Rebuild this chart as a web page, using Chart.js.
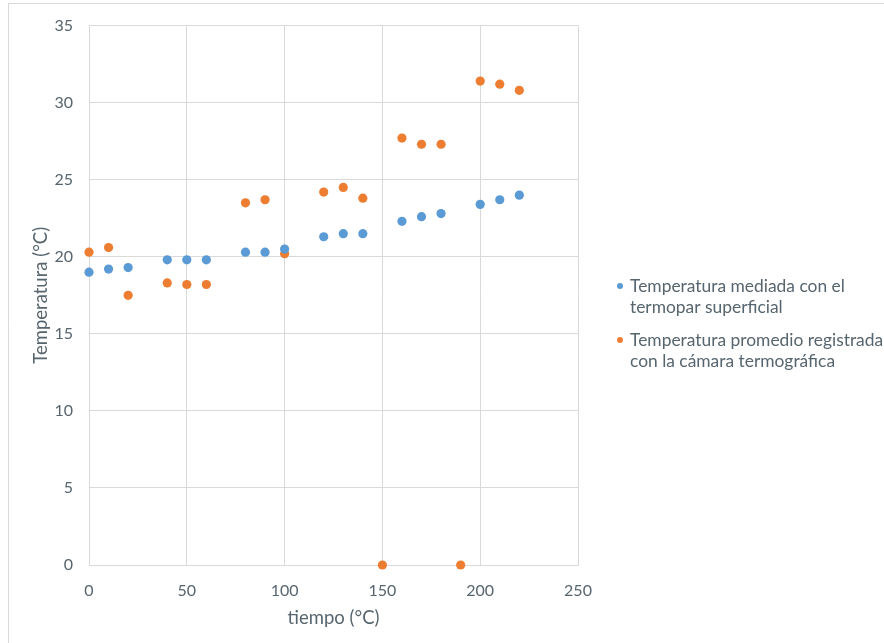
<!DOCTYPE html>
<html>
<head>
<meta charset="utf-8">
<script src="https://cdn.jsdelivr.net/npm/chart.js@4/dist/chart.umd.min.js"></script>
<style>
  html, body { margin: 0; padding: 0; background: #ffffff; }
  #wrap { position: relative; width: 884px; height: 643px; }
</style>
</head>
<body>
<div id="wrap"><canvas id="chart" width="884" height="643"></canvas></div>
<script>
// Surface thermocouple readings
const termoparTiempo = [0, 10, 20, 40, 50, 60, 80, 90, 100, 120, 130, 140, 160, 170, 180, 200, 210, 220];
const termoparTemp   = [19.0, 19.2, 19.3, 19.8, 19.8, 19.8, 20.3, 20.3, 20.5, 21.3, 21.5, 21.5, 22.3, 22.6, 22.8, 23.4, 23.7, 24.0];

// Average reading from the thermal camera
const camaraTiempo = [0, 10, 20, 40, 50, 60, 80, 90, 100, 120, 130, 140, 150, 160, 170, 180, 190, 200, 210, 220];
const camaraTemp   = [20.3, 20.6, 17.5, 18.3, 18.2, 18.2, 23.5, 23.7, 20.2, 24.2, 24.5, 23.8, 0, 27.7, 27.3, 27.3, 0, 31.4, 31.2, 30.8];

// Legend entries (wrapped onto two lines each)
const etiquetaTermopar = ['Temperatura mediada con el', 'termopar superficial'];
const etiquetaCamara   = ['Temperatura promedio registrada', 'con la cámara termográfica'];

// Axis settings
const ejeX = { min: 0, max: 250, paso: 50, titulo: 'tiempo (°C)' };
const ejeY = { min: 0, max: 35, paso: 5, titulo: 'Temperatura (°C)' };

const AZUL = '#5b9bd5';
const NARANJA = '#ed7d31';
const TEXTO = '#57656e';
const REJILLA = '#d9d9d9';
const FUENTE = 'Lato, "Open Sans", sans-serif';

const toPoints = (xs, ys) => xs.map((x, i) => ({ x: x, y: ys[i] }));

// Outer frame of the chart object
const marco = {
  id: 'marco',
  beforeDraw(chart) {
    const ctx = chart.ctx;
    ctx.save();
    ctx.fillStyle = '#ffffff';
    ctx.fillRect(0, 0, chart.width, chart.height);
    ctx.strokeStyle = REJILLA;
    ctx.lineWidth = 1;
    ctx.beginPath();
    ctx.moveTo(8.5, chart.height);
    ctx.lineTo(8.5, 3.5);
    ctx.lineTo(chart.width, 3.5);
    ctx.stroke();
    ctx.restore();
  }
};

// Legend drawn to the right of the plot, with wrapped labels
const leyenda = {
  id: 'leyenda',
  afterDraw(chart) {
    const ctx = chart.ctx;
    const x0 = chart.chartArea.right + 42;
    const lineH = 21;
    let y = 286;
    ctx.save();
    ctx.font = '17.4px ' + FUENTE;
    ctx.textBaseline = 'middle';
    ctx.textAlign = 'left';
    chart.data.datasets.forEach(ds => {
      ctx.fillStyle = ds.backgroundColor;
      ctx.beginPath();
      ctx.arc(x0, y, 3, 0, Math.PI * 2);
      ctx.fill();
      ctx.fillStyle = TEXTO;
      ds.label.forEach((line, i) => ctx.fillText(line, x0 + 10, y + i * lineH));
      y += ds.label.length * lineH + 12;
    });
    ctx.restore();
  }
};

new Chart(document.getElementById('chart'), {
  type: 'scatter',
  data: {
    datasets: [
      {
        label: etiquetaTermopar,
        data: toPoints(termoparTiempo, termoparTemp),
        backgroundColor: AZUL,
        borderColor: AZUL,
        pointRadius: 4.6,
        pointBorderWidth: 0,
        clip: false
      },
      {
        label: etiquetaCamara,
        data: toPoints(camaraTiempo, camaraTemp),
        backgroundColor: NARANJA,
        borderColor: NARANJA,
        pointRadius: 4.6,
        pointBorderWidth: 0,
        clip: false
      }
    ]
  },
  options: {
    responsive: false,
    animation: false,
    layout: { padding: { left: 9, top: 20, right: 306, bottom: 0 } },
    plugins: {
      legend: { display: false },
      tooltip: { enabled: false }
    },
    scales: {
      x: {
        type: 'linear',
        min: ejeX.min,
        max: ejeX.max,
        afterFit(scale) { scale.height = 78; },
        ticks: { stepSize: ejeX.paso, color: TEXTO, padding: 16, font: { family: FUENTE, size: 16 } },
        grid: { color: REJILLA, lineWidth: 1, drawTicks: false },
        border: { color: REJILLA },
        title: { display: true, text: ejeX.titulo, color: TEXTO, padding: { top: 0, bottom: 14 }, font: { family: FUENTE, size: 18.5 } }
      },
      y: {
        type: 'linear',
        min: ejeY.min,
        max: ejeY.max,
        afterFit(scale) { scale.width = 80; },
        ticks: { stepSize: ejeY.paso, color: TEXTO, padding: 16, font: { family: FUENTE, size: 16 } },
        grid: { color: REJILLA, lineWidth: 1, drawTicks: false },
        border: { color: REJILLA },
        title: { display: true, text: ejeY.titulo, color: TEXTO, padding: { top: 20.5, bottom: 0 }, font: { family: FUENTE, size: 18.5 } }
      }
    }
  },
  plugins: [marco, leyenda]
});
</script>
</body>
</html>
